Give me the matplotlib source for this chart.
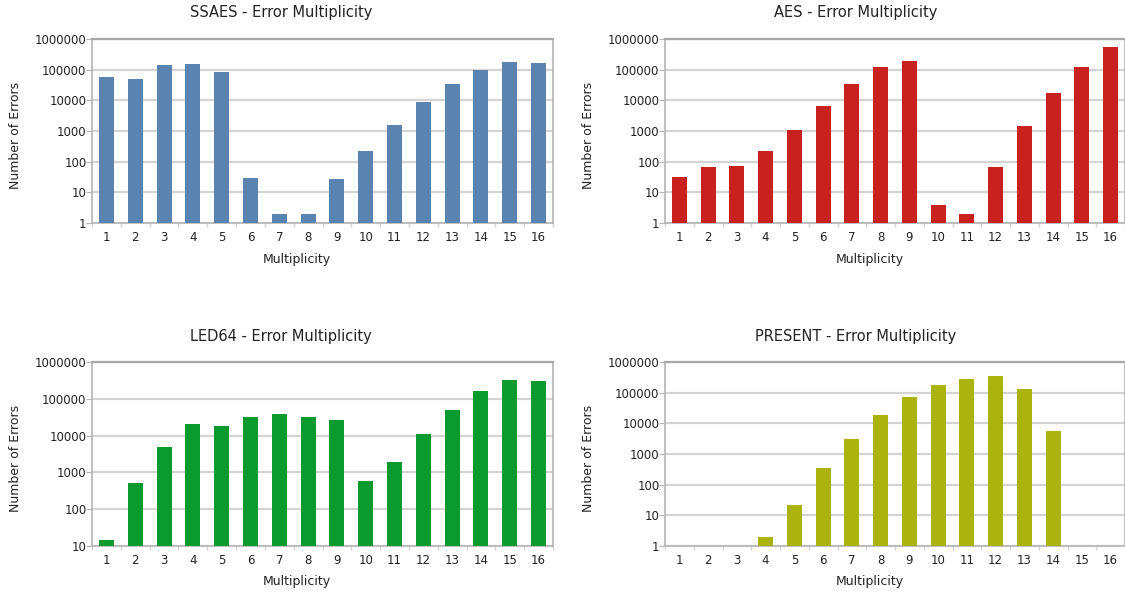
import numpy as np
import matplotlib
matplotlib.use("Agg")
import matplotlib.pyplot as plt
from matplotlib.ticker import FixedLocator, NullFormatter

plt.rcParams['font.family'] = ['DejaVu Sans']

multiplicity = list(range(1, 17))

ssaes = [57000, 50000, 142000, 155000, 85000, 29, 2, 2, 27, 225, 1600, 9000, 34000, 100000, 180000, 168000]
aes = [32, 68, 74, 230, 1100, 6700, 35000, 120000, 185000, 4, 2, 68, 1500, 18000, 120000, 540000]
led64 = [15, 500, 4800, 21000, 18000, 32000, 39000, 32000, 27000, 580, 1900, 11000, 49000, 165000, 330000, 300000]
present = [0, 0, 0, 2, 21, 350, 3100, 19000, 72000, 180000, 280000, 350000, 130000, 5500, 0, 0]

titles = ["SSAES - Error Multiplicity", "AES - Error Multiplicity",
          "LED64 - Error Multiplicity", "PRESENT - Error Multiplicity"]
series = [ssaes, aes, led64, present]
colors = ["#5A83B0", "#C9211F", "#0A9A30", "#ABB30F"]
y_lows = [1, 1, 10, 1]

W, H = 1125, 594
fig = plt.figure(figsize=(W / 100, H / 100), dpi=100)

# axes boxes in pixel coords: left, right, top, bottom
boxes = [(92, 553, 39, 223), (665, 1125, 39, 223),
         (92, 553, 362, 546), (665, 1125, 362, 546)]
title_x = [281, 856, 281, 856]
title_y = [13, 13, 336, 336]
xlabel_x = [297, 870, 297, 870]
xlabel_y = [259, 259, 581, 581]
ylabel_x = [16, 589, 16, 589]

grid_c = "#d4d4d4"
spine_c = "#b4b4b4"

for i in range(4):
    l, r, t, b = boxes[i]
    ax = fig.add_axes([l / W, 1 - b / H, (r - l) / W, (b - t) / H])
    vals = np.array(series[i], dtype=float)
    xs = np.array(multiplicity)
    mask = vals > 0
    ax.set_yscale('log')
    ax.bar(xs[mask], vals[mask], width=0.52, color=colors[i], zorder=3)
    ax.set_xlim(0.5, 16.5)
    ax.set_ylim(y_lows[i], 1e6)

    decades = [10 ** k for k in range(int(np.log10(y_lows[i])), 7)]
    ax.yaxis.set_major_locator(FixedLocator(decades))
    ax.set_yticklabels([str(d) for d in decades])
    ax.yaxis.set_minor_locator(FixedLocator([]))
    ax.yaxis.set_minor_formatter(NullFormatter())

    ax.set_xticks(multiplicity)
    ax.set_xticklabels([str(m) for m in multiplicity])
    ax.set_xticks(np.arange(0.5, 17, 1), minor=True)
    ax.tick_params(axis='x', which='major', length=0, labelsize=8.5, pad=6, colors="#222222")
    ax.tick_params(axis='x', which='minor', length=3, color=grid_c, width=1)
    ax.tick_params(axis='y', which='major', length=4, labelsize=8.5, pad=0, colors="#222222")
    ax.tick_params(axis='y', which='major', color=spine_c)

    ax.grid(axis='y', which='major', color=grid_c, linewidth=1.6, zorder=0)
    for s in ['left', 'bottom', 'right']:
        ax.spines[s].set_color(spine_c)
        ax.spines[s].set_linewidth(1.2)
    ax.spines['top'].set_color("#a8a8a8")
    ax.spines['top'].set_linewidth(1.6)

    fig.text(title_x[i] / W, 1 - title_y[i] / H, titles[i], ha='center', va='center',
             fontsize=10.5, color="#222222")
    fig.text(xlabel_x[i] / W, 1 - xlabel_y[i] / H, "Multiplicity", ha='center', va='center',
             fontsize=9, color="#222222")
    fig.text(ylabel_x[i] / W, 1 - ((t + b) / 2 + 4) / H, "Number of Errors", ha='center',
             va='center', rotation=90, fontsize=9, color="#222222")

fig.savefig("out.png", dpi=100)
